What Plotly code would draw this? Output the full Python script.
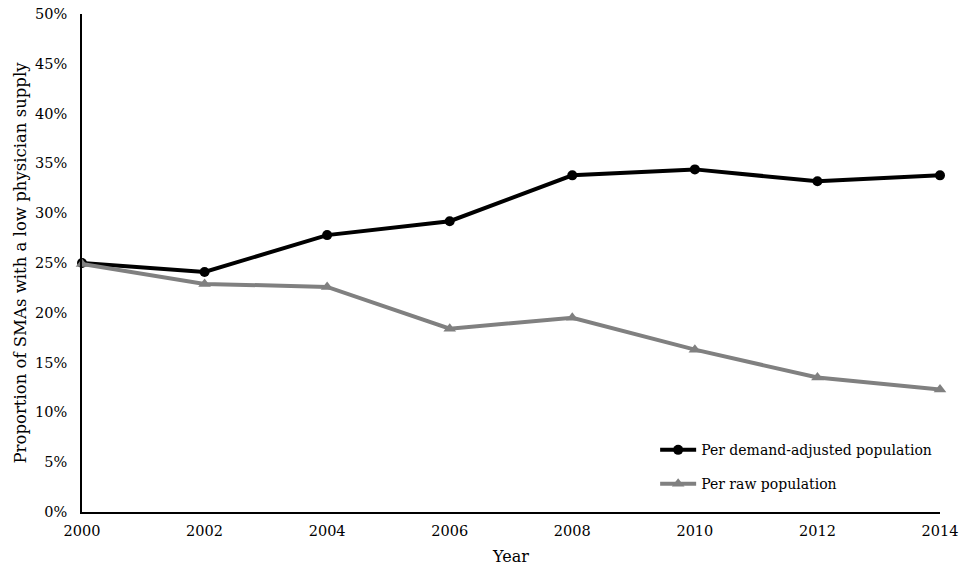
import plotly.graph_objects as go

years = [2000, 2002, 2004, 2006, 2008, 2010, 2012, 2014]
demand_adjusted = [0.250, 0.241, 0.278, 0.292, 0.338, 0.344, 0.332, 0.338]
raw_population = [0.249, 0.229, 0.226, 0.184, 0.195, 0.163, 0.135, 0.123]
y_ticks = [0, 0.05, 0.10, 0.15, 0.20, 0.25, 0.30, 0.35, 0.40, 0.45, 0.50]

FONT = "DejaVu Serif"

fig = go.Figure()
fig.add_trace(go.Scatter(
    x=years, y=demand_adjusted, mode="lines+markers",
    name="Per demand-adjusted population",
    line=dict(color="black", width=4),
    marker=dict(symbol="circle", size=10, color="black"),
    legend="legend",
))
fig.add_trace(go.Scatter(
    x=years, y=raw_population, mode="lines+markers",
    name="Per raw population",
    line=dict(color="#808080", width=4),
    marker=dict(symbol="triangle-up", size=11, color="#808080"),
    legend="legend2",
))

leg_common = dict(xanchor="left", yanchor="middle",
                  font=dict(family=FONT, size=14, color="black"),
                  itemwidth=36, bgcolor="rgba(0,0,0,0)")

fig.update_layout(
    width=972, height=566,
    margin=dict(l=82, r=32, t=14, b=54, autoexpand=False),
    paper_bgcolor="white", plot_bgcolor="white",
    font=dict(family=FONT, size=14, color="black"),
    showlegend=True,
    legend=dict(x=0.668, y=0.124, **leg_common),
    legend2=dict(x=0.668, y=0.056, **leg_common),
    xaxis=dict(
        range=[2000, 2014], tickvals=years, ticktext=[str(y) for y in years],
        showline=True, linecolor="black", linewidth=1.5,
        showgrid=False, zeroline=False, ticks="", ticklen=0,
        automargin=False, ticklabelstandoff=5, ticklabeloverflow="allow",
        title=dict(text="Year", font=dict(family=FONT, size=16), standoff=18),
        tickfont=dict(family=FONT, size=14.5),
    ),
    yaxis=dict(
        range=[0, 0.50], tickvals=y_ticks, tickformat=".0%",
        showline=True, linecolor="black", linewidth=1.5,
        showgrid=False, zeroline=False, ticks="",
        automargin=False, ticklabelstandoff=10, ticklabeloverflow="allow",
        title=dict(text="Proportion of SMAs with a low physician supply",
                   font=dict(family=FONT, size=16.5), standoff=4),
        tickfont=dict(family=FONT, size=14.5),
    ),
)
fig.update_traces(cliponaxis=False)

fig.write_html("out.html", config={"displayModeBar": False},
               post_script="document.body.style.margin='0';document.body.style.overflow='hidden';")
